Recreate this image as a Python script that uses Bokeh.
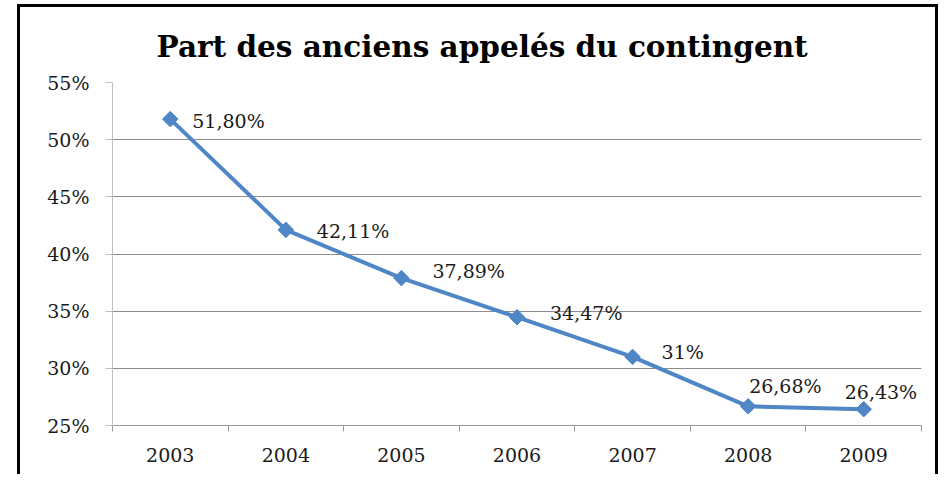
from bokeh.plotting import figure
from bokeh.models import ColumnDataSource, FixedTicker, NumeralTickFormatter, Range1d
from bokeh.embed import file_html
from bokeh.resources import INLINE
from bokeh.core.properties import value

years = [2003, 2004, 2005, 2006, 2007, 2008, 2009]
shares = [0.5180, 0.4211, 0.3789, 0.3447, 0.3100, 0.2668, 0.2643]
labels = ["51,80%", "42,11%", "37,89%", "34,47%", "31%", "26,68%", "26,43%"]
y_ticks = [0.25, 0.30, 0.35, 0.40, 0.45, 0.50, 0.55]

# label placement (layout only)
lab_dx = [22, 31, 31, 33, 29, 1, -19]
lab_dy = [2, 1, -7, -4, -5, -20, -17]

src = ColumnDataSource(dict(x=years, y=shares, lab=labels, dx=lab_dx, dy=lab_dy))

p = figure(width=921, height=470, output_backend="svg", toolbar_location=None,
           x_range=Range1d(years[0] - 0.5, years[-1] + 0.5),
           y_range=Range1d(y_ticks[0], y_ticks[-1]),
           min_border_left=92, min_border_right=20, min_border_top=75, min_border_bottom=52)
p.margin = (4, 0, 0, 17)
p.styles = {"border-left": "3px solid black", "border-top": "3px solid black",
            "border-right": "3px solid black"}

p.title.text = "Part des anciens appelés du contingent"
p.title.text_font = "DejaVu Serif"
p.title.text_font_style = "bold"
p.title.text_font_size = "29.5px"
p.title.align = "left"
p.title.offset = 44
p.title.standoff = 38
p.title.text_color = "black"

p.outline_line_color = None
p.background_fill_color = "white"
p.border_fill_color = "white"

# y axis
p.yaxis.ticker = FixedTicker(ticks=y_ticks)
p.yaxis.formatter = NumeralTickFormatter(format="0%")
p.yaxis.axis_line_color = "#bfbfbf"
p.yaxis.major_tick_line_color = "#bfbfbf"
p.yaxis.major_tick_out = 7
p.yaxis.major_tick_in = 0
p.yaxis.minor_tick_line_color = None
p.yaxis.major_label_standoff = 16
p.yaxis.major_label_text_font = "DejaVu Serif"
p.yaxis.major_label_text_font_size = "19px"
p.yaxis.major_label_text_color = "#1a1a1a"

# x axis
p.xaxis.ticker = FixedTicker(ticks=years, minor_ticks=[y - 0.5 for y in years] + [years[-1] + 0.5])
p.xaxis.axis_line_color = "#9a9a9a"
p.xaxis.major_tick_line_color = None
p.xaxis.major_tick_out = 0
p.xaxis.major_tick_in = 0
p.xaxis.minor_tick_line_color = "#9a9a9a"
p.xaxis.minor_tick_out = 6
p.xaxis.minor_tick_in = 0
p.xaxis.major_label_standoff = 16
p.xaxis.major_label_text_font = "DejaVu Serif"
p.xaxis.major_label_text_font_size = "19px"
p.xaxis.major_label_text_color = "#1a1a1a"

p.xgrid.grid_line_color = None
p.ygrid.grid_line_color = "#8c8c8c"
p.ygrid.grid_line_width = 1

p.line("x", "y", source=src, line_color="#4F86C6", line_width=4)
p.scatter("x", "y", source=src, marker="square", angle=0.785398, size=11,
          fill_color="#4F86C6", line_color="#4F86C6")
p.text("x", "y", text="lab", source=src, x_offset="dx", y_offset="dy",
       text_font=value("DejaVu Serif"), text_font_size="19px", text_color="#1a1a1a",
       text_baseline="middle", text_align="left")

open("out.html", "w").write(file_html(p, INLINE))
